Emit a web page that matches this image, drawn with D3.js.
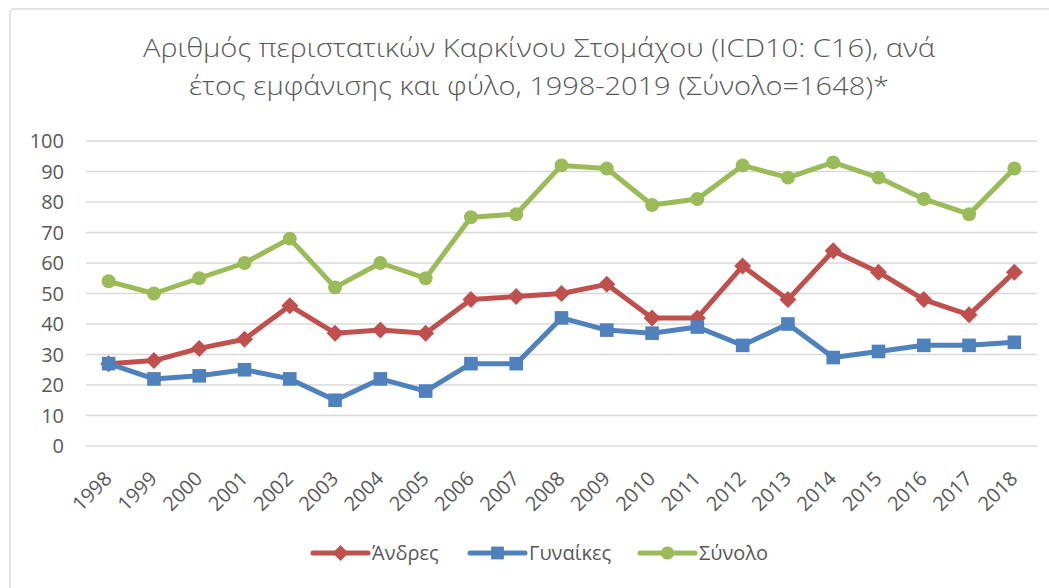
<!DOCTYPE html>
<html>
<head>
<meta charset="utf-8">
<script src="https://cdn.jsdelivr.net/npm/d3@7"></script>
<style>
  html, body { margin: 0; padding: 0; background: #fff; }
  svg { display: block; font-family: "Open Sans", "Noto Sans", sans-serif; }
</style>
</head>
<body>
<svg id="chart"></svg>
<script>
// Data
const years = ["1998","1999","2000","2001","2002","2003","2004","2005","2006","2007",
  "2008","2009","2010","2011","2012","2013","2014","2015","2016","2017","2018"];
const andres = [27, 28, 32, 35, 46, 37, 38, 37, 48, 49, 50, 53, 42, 42, 59, 48, 64, 57, 48, 43, 57];
const gynaikes = [27, 22, 23, 25, 22, 15, 22, 18, 27, 27, 42, 38, 37, 39, 33, 40, 29, 31, 33, 33, 34];
const synolo = [54, 50, 55, 60, 68, 52, 60, 55, 75, 76, 92, 91, 79, 81, 92, 88, 93, 88, 81, 76, 91];
const yTicks = [0, 10, 20, 30, 40, 50, 60, 70, 80, 90, 100];
const titleLines = [
  "Αριθμός περιστατικών Καρκίνου Στομάχου (ICD10: C16), ανά",
  "έτος εμφάνισης και φύλο, 1998-2019 (Σύνολο=1648)*"
];

const series = [
  { name: "Άνδρες", values: andres, color: "#C0504D", marker: "diamond" },
  { name: "Γυναίκες", values: gynaikes, color: "#4F81BD", marker: "square" },
  { name: "Σύνολο", values: synolo, color: "#9BBB59", marker: "circle" }
];

const width = 1049, height = 588;
const textColor = "#595959";

const svg = d3.select("#chart")
  .attr("width", width)
  .attr("height", height);

// chart border (frame runs off the right/bottom edge)
svg.append("rect")
  .attr("x", 10).attr("y", 9)
  .attr("width", width + 20).attr("height", height + 20)
  .attr("rx", 4)
  .attr("fill", "#fff")
  .attr("stroke", "#D9D9D9")
  .attr("stroke-width", 1.5);

// Title
svg.append("g")
  .selectAll("text")
  .data(titleLines)
  .join("text")
    .attr("x", 539)
    .attr("y", (d, i) => 57 + i * 38)
    .attr("text-anchor", "middle")
    .attr("font-size", 25)
    .attr("font-weight", 300)
    .attr("fill", textColor)
    .attr("textLength", (d, i) => i === 0 ? 792 : 700)
    .attr("lengthAdjust", "spacingAndGlyphs")
    .text(d => d);

// Scales
const plotLeft = 86, plotRight = 1037;
const x = d3.scalePoint()
  .domain(years)
  .range([plotLeft, plotRight])
  .padding(0.5);

const y = d3.scaleLinear()
  .domain([0, 100])
  .range([446, 141]);

// Gridlines
svg.append("g")
  .selectAll("line")
  .data(yTicks)
  .join("line")
    .attr("x1", plotLeft)
    .attr("x2", plotRight)
    .attr("y1", d => y(d))
    .attr("y2", d => y(d))
    .attr("stroke", "#D9D9D9")
    .attr("stroke-width", 1.3);

// Y axis labels
svg.append("g")
  .selectAll("text")
  .data(yTicks)
  .join("text")
    .attr("x", 64)
    .attr("y", d => y(d))
    .attr("dy", "0.36em")
    .attr("text-anchor", "end")
    .attr("font-size", 20)
    .attr("fill", textColor)
    .text(d => d);

// X axis labels (rotated)
svg.append("g")
  .selectAll("text")
  .data(years)
  .join("text")
    .attr("transform", d => `translate(${x(d) + 4.5},${480}) rotate(-45)`)
    .attr("text-anchor", "end")
    .attr("font-size", 20)
    .attr("fill", textColor)
    .text(d => d);

// Marker helper
function drawMarker(g, type, cx, cy, color, s) {
  if (type === "diamond") {
    g.append("path")
      .attr("d", `M${cx},${cy - s}L${cx + s},${cy}L${cx},${cy + s}L${cx - s},${cy}Z`)
      .attr("fill", color);
  } else if (type === "square") {
    g.append("rect")
      .attr("x", cx - s * 0.8).attr("y", cy - s * 0.8)
      .attr("width", s * 1.6).attr("height", s * 1.6)
      .attr("fill", color);
  } else {
    g.append("circle")
      .attr("cx", cx).attr("cy", cy)
      .attr("r", s * 0.82)
      .attr("fill", color);
  }
}

// Lines + markers
const line = d3.line()
  .x((d, i) => x(years[i]))
  .y(d => y(d));

series.forEach(s => {
  const g = svg.append("g");
  g.append("path")
    .datum(s.values)
    .attr("d", line)
    .attr("fill", "none")
    .attr("stroke", s.color)
    .attr("stroke-width", 5)
    .attr("stroke-linejoin", "round")
    .attr("stroke-linecap", "round");
  s.values.forEach((v, i) => {
    drawMarker(g, s.marker, x(years[i]), y(v), s.color, 8.5);
  });
});

// Legend
const legendX = [313, 470, 640];
const legendY = 553;
series.forEach((s, i) => {
  const g = svg.append("g");
  const x0 = legendX[i];
  g.append("line")
    .attr("x1", x0).attr("x2", x0 + 55)
    .attr("y1", legendY).attr("y2", legendY)
    .attr("stroke", s.color)
    .attr("stroke-width", 5)
    .attr("stroke-linecap", "round");
  drawMarker(g, s.marker, x0 + 27.5, legendY, s.color, 8);
  g.append("text")
    .attr("x", x0 + 59)
    .attr("y", legendY)
    .attr("dy", "0.36em")
    .attr("font-size", 20)
    .attr("fill", textColor)
    .text(s.name);
});
</script>
</body>
</html>
